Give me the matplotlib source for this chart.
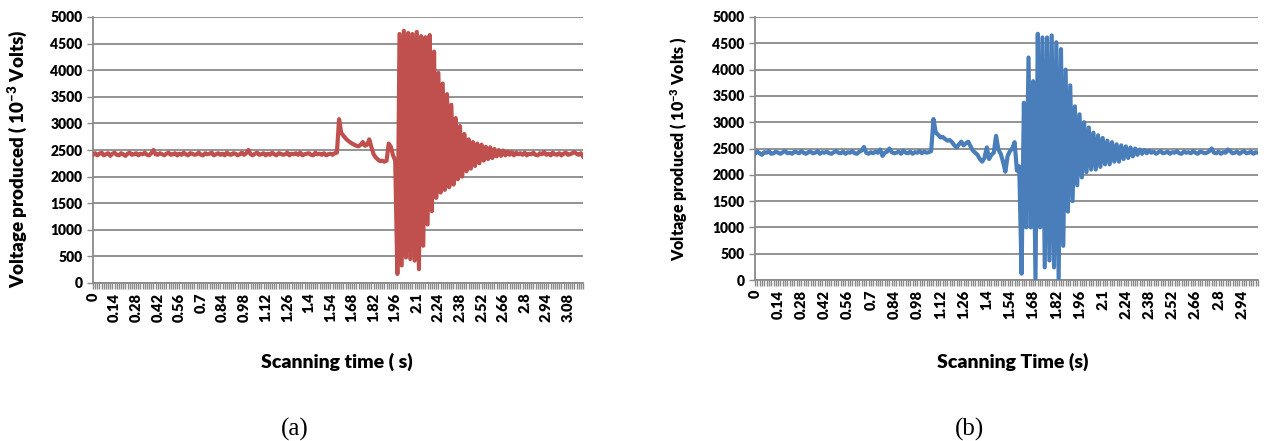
import matplotlib
matplotlib.use("Agg")
import matplotlib.pyplot as plt
from matplotlib.ticker import MultipleLocator

# ── Style ─────────────────────────────────────────────────────────────────────

plt.rcParams.update({
    "font.family":      ["Lato", "DejaVu Sans"],
    "font.weight":      "heavy",
    "mathtext.fontset": "custom",
    "mathtext.rm":      "Lato:heavy",
    "mathtext.it":      "Lato:heavy",
    "mathtext.bf":      "Lato:heavy",
})

RED  = "#C0504D"
BLUE = "#4A7EBB"
GRID = "#8A8A8A"

W, H = 1274, 441

# ── Data: sensor voltage (mV), one sample per category ───────────────────────

volt_a = [
    2410, 2440, 2400, 2430, 2450, 2400, 2420, 2440, 2390, 2430,
    2450, 2410, 2400, 2440, 2420, 2390, 2430, 2450, 2410, 2420,
    2440, 2400, 2430, 2420, 2450, 2410, 2400, 2440, 2500, 2420,
    2410, 2440, 2420, 2400, 2430, 2450, 2410, 2420, 2440, 2400,
    2430, 2410, 2450, 2420, 2400, 2440, 2430, 2410, 2420, 2450,
    2410, 2400, 2440, 2420, 2430, 2450, 2400, 2420, 2440, 2410,
    2430, 2400, 2450, 2420, 2410, 2440, 2430, 2400, 2420, 2450,
    2410, 2440, 2500, 2420, 2400, 2430, 2450, 2410, 2420, 2440,
    2400, 2430, 2410, 2450, 2420, 2400, 2440, 2430, 2410, 2420,
    2450, 2400, 2430, 2420, 2440, 2410, 2450, 2400, 2420, 2430,
    2440, 2410, 2400, 2450, 2420, 2430, 2410, 2440, 2400, 2420,
    2430, 2410, 2440, 2450,
    3080, 2820, 2770, 2720, 2680, 2650, 2620, 2600, 2580, 2570,
    2600, 2650, 2580, 2600, 2700, 2550, 2420, 2360, 2320, 2290,
    2300, 2280, 2300, 2620, 2560, 2400, 2300,
    170, 4680, 330, 4740, 480, 4700, 450, 4680, 420, 4720,
    260, 4640, 700, 4620, 1100, 4660, 1350, 4350, 1600, 3950,
    1700, 3750, 1750, 3550, 1800, 3350, 1850, 3100, 1950, 2950,
    2000, 2800, 2100, 2700, 2150, 2650, 2200, 2620, 2250, 2600,
    2300, 2560, 2330, 2550, 2350, 2520, 2380, 2500, 2390, 2490,
    2400, 2470, 2410, 2460, 2400, 2450, 2420, 2440, 2410, 2450,
    2400, 2430, 2420, 2450, 2410, 2400, 2440, 2420, 2460, 2410,
    2430, 2400, 2450, 2420, 2410, 2440, 2400, 2430, 2450, 2410,
    2420, 2440, 2460, 2430, 2410, 2440, 2380,
]

volt_b = [
    2400, 2440, 2410, 2380, 2430, 2420, 2450, 2400, 2410, 2440,
    2420, 2400, 2430, 2450, 2410, 2420, 2400, 2440, 2430, 2410,
    2450, 2420, 2400, 2430, 2440, 2410, 2420, 2450, 2400, 2430,
    2420, 2440, 2410, 2400, 2430, 2450, 2420, 2410, 2440, 2400,
    2430, 2420, 2450, 2410, 2400, 2440, 2460, 2530, 2420, 2400,
    2430, 2410, 2440, 2420, 2480, 2360, 2420, 2440, 2500, 2430,
    2410, 2420, 2440, 2400, 2460, 2420, 2410, 2440, 2400, 2430,
    2420, 2450, 2410, 2440, 2420, 2430, 2450,
    3060, 2800, 2760, 2710, 2720, 2680, 2650, 2660, 2620, 2560,
    2520, 2580, 2630, 2560, 2600, 2630, 2540, 2460, 2420, 2380,
    2300, 2250, 2320, 2520, 2300, 2380, 2420, 2740, 2480, 2400,
    2250, 2060, 2360, 2450, 2500, 2620, 2080, 2160,
    120, 3370, 1000, 4230, 1000, 3780, 20, 4680, 1000, 4610,
    240, 4610, 370, 4650, 240, 4520, 20, 4390, 650, 4000,
    1300, 3700, 1500, 3300, 1800, 3150, 1950, 3000, 2050, 2900,
    2100, 2800, 2100, 2750, 2150, 2700, 2200, 2650, 2200, 2620,
    2250, 2580, 2250, 2560, 2300, 2540, 2320, 2520, 2350, 2500,
    2380, 2480, 2400, 2470, 2410, 2460, 2420, 2440, 2400, 2430,
    2450, 2410, 2420, 2440, 2400, 2430, 2420, 2450, 2410, 2400,
    2440, 2420, 2430, 2410, 2450, 2420, 2400, 2440, 2430, 2410,
    2420, 2450, 2500, 2420, 2410, 2440, 2400, 2430, 2420, 2480,
    2450, 2410, 2420, 2440, 2400, 2430, 2450, 2410, 2420, 2440,
    2400, 2430, 2420,
]

labels_a = ["0", "0.14", "0.28", "0.42", "0.56", "0.7", "0.84", "0.98",
            "1.12", "1.26", "1.4", "1.54", "1.68", "1.82", "1.96", "2.1",
            "2.24", "2.38", "2.52", "2.66", "2.8", "2.94", "3.08"]
labels_b = labels_a[:-1]

LABEL_EVERY = 10
Y_TICKS = list(range(0, 5001, 500))


def px_axes(left, top, right, bottom):
    return [left / W, 1 - bottom / H, (right - left) / W, (bottom - top) / H]


def draw_panel(ax, values, labels, color):
    ax.plot(range(len(values)), values, color=color, lw=3.0,
            solid_joinstyle="round", zorder=3)
    ax.set_xlim(0, len(values) - 1)
    ax.set_ylim(0, 5000)
    ax.set_yticks(Y_TICKS)
    ax.set_xticks(range(0, LABEL_EVERY * len(labels), LABEL_EVERY))
    ax.set_xticklabels(labels, rotation=90)
    ax.xaxis.set_minor_locator(MultipleLocator(1))
    ax.yaxis.grid(True, color=GRID, lw=1.3)
    ax.set_axisbelow(True)
    for side in ("top", "right"):
        ax.spines[side].set_visible(False)
    for side in ("left", "bottom"):
        ax.spines[side].set_color(GRID)
        ax.spines[side].set_linewidth(1.3)
    ax.tick_params(axis="x", which="both", length=4, width=1, color=GRID,
                   labelsize=10.5, pad=3)
    ax.tick_params(axis="y", length=4, width=1, color=GRID, labelsize=10)


fig = plt.figure(figsize=(W / 100, H / 100), dpi=100)

ax_a = fig.add_axes(px_axes(93, 17, 583, 283))
draw_panel(ax_a, volt_a, labels_a, RED)

ax_b = fig.add_axes(px_axes(755, 17, 1258, 280))
draw_panel(ax_b, volt_b, labels_b, BLUE)

# axis titles
fig.text(17 / W, 1 - 159 / H, "Voltage produced ( 10$^{-3}$ Volts)",
         rotation=90, ha="center", va="center", fontsize=13.5)
fig.text(679 / W, 1 - 149 / H, "Voltage produced ( 10$^{-3}$ Volts )",
         rotation=90, ha="center", va="center", fontsize=11.5)
fig.text(337 / W, 1 - 362 / H, "Scanning time ( s)",
         ha="center", va="center", fontsize=14)
fig.text(1013 / W, 1 - 362 / H, "Scanning Time (s)",
         ha="center", va="center", fontsize=14)

# panel captions
for x, cap in ((295, "(a)"), (970, "(b)")):
    fig.text(x / W, 1 - 429 / H, cap, ha="center", va="center",
             family="Liberation Serif", fontweight="normal", fontsize=18)

fig.savefig("out.png", dpi=100)
